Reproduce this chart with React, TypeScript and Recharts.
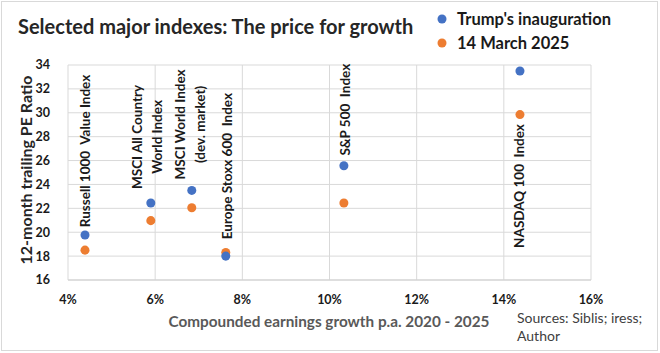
import { ScatterChart, Scatter, XAxis, YAxis, CartesianGrid, LabelList } from "recharts"

const INDEX_NAMES = [
  ["Russell 1000  Value Index"],
  ["MSCI All Country", "World Index"],
  ["MSCI World Index", "(dev. market)"],
  ["Europe Stoxx 600  Index"],
  ["S&P 500  Index"],
  ["NASDAQ 100  Index"],
]
const EARNINGS_GROWTH = [4.39, 5.9, 6.84, 7.62, 10.33, 14.37]
const PE_INAUGURATION = [19.77, 22.45, 23.5, 18.0, 25.57, 33.5]
const PE_MARCH_2025 = [18.5, 20.97, 22.05, 18.3, 22.45, 29.85]
const X_TICKS = [4, 6, 8, 10, 12, 14, 16]
const Y_TICKS = [16, 18, 20, 22, 24, 26, 28, 30, 32, 34]

// where each rotated label sits relative to its blue dot (px)
const LABEL_SHIFT = [
  [0, -84],
  [-4, -66],
  [-2, -66],
  [1, -90],
  [1, -56],
  [-1, 115],
]

const BLUE = "#4472C4"
const ORANGE = "#ED7D31"
const FONT = "Lato, 'Noto Sans', sans-serif"

const inauguration = EARNINGS_GROWTH.map((g, i) => ({ g, pe: PE_INAUGURATION[i], i }))
const march = EARNINGS_GROWTH.map((g, i) => ({ g, pe: PE_MARCH_2025[i], i }))

function IndexLabel(props: any) {
  const { x, y, width, height, index } = props
  const cx = x + (width || 0) / 2 + LABEL_SHIFT[index][0]
  const cy = y + (height || 0) / 2 + LABEL_SHIFT[index][1]
  const lines = INDEX_NAMES[index]
  const lh = 19.5
  return (
    <text
      transform={`rotate(-90 ${cx} ${cy})`}
      textAnchor="middle"
      dominantBaseline="central"
      fontFamily={FONT}
      fontWeight={700}
      fontSize={13.5}
      fill="#1a1a1a"
      style={{ whiteSpace: "pre" }}
    >
      {lines.map((line, k) => (
        <tspan key={k} x={cx} y={cy + (k - (lines.length - 1) / 2) * lh}>
          {line}
        </tspan>
      ))}
    </text>
  )
}

export default function App() {
  return (
    <div style={{ position: "absolute", left: 0, top: 0, width: 660, height: 353, background: "#fff" }}>
      <ScatterChart width={660} height={353} margin={{ top: 65, right: 69, bottom: 43, left: 8 }}>
        <CartesianGrid stroke="#d9d9d9" />
        <XAxis
          type="number"
          dataKey="g"
          domain={[4, 16]}
          ticks={X_TICKS}
          tickFormatter={(v) => `${v}%`}
          height={30}
          tickSize={0}
          tickMargin={15}
          axisLine={{ stroke: "#d0d0d0" }}
          tick={{ fill: "#1a1a1a", fontSize: 12.5, fontWeight: 700, fontFamily: FONT }}
        />
        <YAxis
          type="number"
          dataKey="pe"
          domain={[16, 34]}
          ticks={Y_TICKS}
          width={60}
          tickSize={0}
          tickMargin={18}
          axisLine={false}
          tick={{ fill: "#1a1a1a", fontSize: 12.5, fontWeight: 700, fontFamily: FONT }}
        />
        <Scatter data={march} fill={ORANGE} isAnimationActive={false} />
        <Scatter data={inauguration} fill={BLUE} isAnimationActive={false}>
          <LabelList dataKey="i" content={IndexLabel} />
        </Scatter>
      </ScatterChart>
      <svg width={660} height={353} style={{ position: "absolute", left: 0, top: 0, pointerEvents: "none" }}>
        <rect x={1.5} y={1.5} width={656} height={349} fill="none" stroke="#d9d9d9" />
        <text x={18} y={34} fontFamily={FONT} fontWeight={700} fontSize={20} fill="#262626">
          Selected major indexes: The price for growth
        </text>
        <circle cx={442} cy={19} r={4.5} fill={BLUE} />
        <text x={457} y={25} fontFamily={FONT} fontWeight={700} fontSize={16.5} fill="#1a1a1a">
          Trump's inauguration
        </text>
        <circle cx={442} cy={43} r={4.5} fill={ORANGE} />
        <text x={457} y={49} fontFamily={FONT} fontWeight={700} fontSize={16.5} fill="#1a1a1a">
          14 March 2025
        </text>
        <text
          transform="rotate(-90 25 170)"
          x={25}
          y={170}
          textAnchor="middle"
          dominantBaseline="central"
          fontFamily={FONT}
          fontWeight={700}
          fontSize={16}
          fill="#262626"
        >
          12-month trailing PE Ratio
        </text>
        <text x={329} y={327} textAnchor="middle" fontFamily={FONT} fontWeight={700} fontSize={15.3} fill="#595959">
          Compounded earnings growth p.a. 2020 - 2025
        </text>
        <text x={517} y={323} fontFamily={FONT} fontSize={14} fill="#404040">
          Sources: Siblis; iress;
        </text>
        <text x={517} y={341} fontFamily={FONT} fontSize={14} fill="#404040">
          Author
        </text>
      </svg>
    </div>
  )
}
